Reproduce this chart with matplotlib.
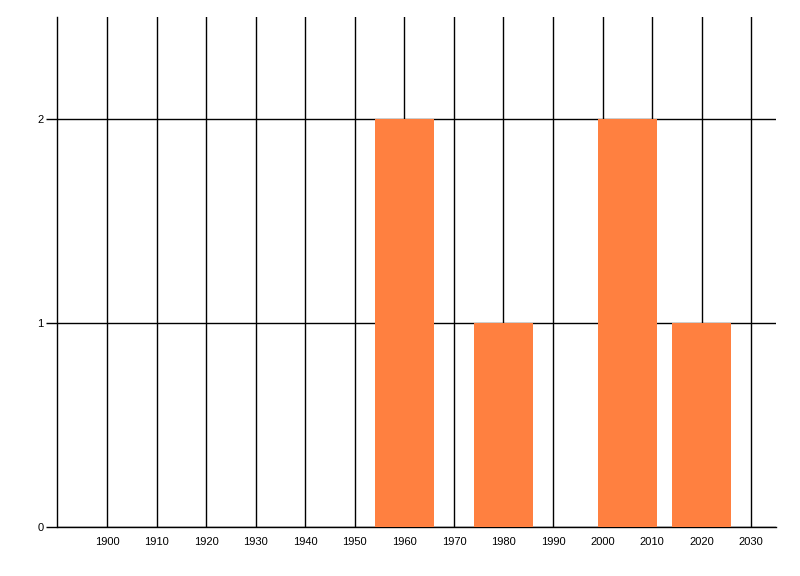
import matplotlib
matplotlib.use('Agg')
import matplotlib.pyplot as plt

# decade bins and their counts
years = [1960, 1980, 2005, 2020]
counts = [2, 1, 2, 1]
xticks = list(range(1900, 2040, 10))
yticks = [0, 1, 2]

plt.rcParams['font.family'] = ['Liberation Sans', 'DejaVu Sans']

fig = plt.figure(figsize=(8, 5.76), dpi=100)
ax = fig.add_axes([57.5 / 800, 49 / 576, (776 - 57.5) / 800, (527 - 17) / 576])

ax.bar(years, counts, width=12, color='#FF8040', zorder=3)

ax.set_xlim(1890, 2035)
ax.set_ylim(0, 2.5)
ax.set_xticks(xticks)
ax.set_yticks(yticks)
ax.tick_params(axis='x', length=0, pad=7, labelsize=8)
ax.tick_params(axis='y', length=8, width=1, pad=2, labelsize=8)

ax.grid(True, color='black', linewidth=1, zorder=1)
ax.set_axisbelow(True)
# left edge line behaves like a gridline at top
for s in ['top', 'right']:
    ax.spines[s].set_visible(False)
for s in ['left', 'bottom']:
    ax.spines[s].set_color('black')
    ax.spines[s].set_linewidth(1)

fig.savefig('out.png', dpi=100)
